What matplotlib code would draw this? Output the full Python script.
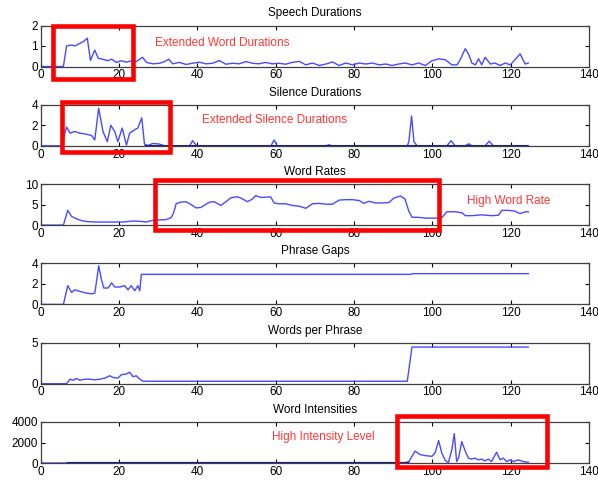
import numpy as np
import matplotlib
matplotlib.use("Agg")
import matplotlib.pyplot as plt
from matplotlib.patches import Rectangle

plt.rcParams['font.family'] = ['Liberation Sans', 'DejaVu Sans']

# -------------------------
# Data
# -------------------------
titles = ['Speech Durations', 'Silence Durations', 'Word Rates',
          'Phrase Gaps', 'Words per Phrase', 'Word Intensities']

speech_x = [0, 5.8, 6.6, 7.9, 8.7, 10.0, 10.8, 11.9, 12.7, 13.8, 14.7, 15.9, 17.2,
            18.1, 19.3, 20.6, 21.9, 23.2, 24.4, 26.0, 27.0, 28.7, 30.4, 31.6, 32.7,
            33.7, 35.4, 37.1, 38.8, 40.5, 42.2, 43.9, 45.6, 47.3, 49.0, 50.7, 52.4,
            54.0, 55.7, 57.4, 59.1, 60.8, 62.5, 64.2, 66.0, 67.7, 69.4, 71.1, 72.8,
            74.5, 76.2, 77.9, 79.6, 81.3, 83.0, 84.7, 86.4, 88.1, 89.7, 91.4, 93.1,
            94.8, 96.5, 98.2, 99.9, 101.6, 103.3, 105.0, 106.3, 107.1, 108.4, 109.3,
            110.1, 111.0, 111.8, 112.6, 113.5, 114.8, 116.0, 117.3, 118.6, 119.9,
            121.1, 122.4, 123.7, 124.5]
speech_y = [0, 0, 1.0, 1.05, 1.0, 1.13, 1.2, 1.38, 0.3, 0.8, 0.4, 0.35, 0.28,
            0.36, 0.2, 0.28, 0.21, 0.28, 0.24, 0.45, 0.2, 0.13, 0.16, 0.24, 0.36,
            0.13, 0.2, 0.1, 0.16, 0.21, 0.13, 0.16, 0.29, 0.11, 0.16, 0.13, 0.24,
            0.16, 0.13, 0.2, 0.13, 0.16, 0.11, 0.2, 0.25, 0.08, 0.17, 0.05, 0.12,
            0.22, 0.05, 0.17, 0.08, 0.17, 0.12, 0.17, 0.08, 0.12, 0.05, 0.12, 0.17,
            0.08, 0.17, 0.05, 0.28, 0.37, 0.33, 0.08, 0.08, 0.33, 0.87, 0.58,
            0.17, 0.08, 0.38, 0.08, 0.45, 0.12, 0.17, 0.05, 0.17, 0.08,
            0.33, 0.62, 0.12, 0.17]

silence_x = [0, 5.3, 6.6, 7.5, 8.7, 10.0, 11.7, 13.0, 13.8, 14.8, 15.9, 17.0, 17.9,
             18.9, 19.7, 20.8, 21.9, 22.7, 24.0, 24.8, 25.8, 26.5, 27.4, 28.6, 30.3,
             31.6, 38.0, 38.8, 39.8, 58.8, 59.6, 60.4, 72.8, 73.6, 74.4, 93.6, 94.0,
             94.7, 95.3, 96.1, 103.7, 104.8, 105.8, 108.4, 109.3, 110.1, 113.5,
             114.5, 115.6, 124.5]
silence_y = [0, 0, 1.83, 1.23, 1.4, 1.23, 1.13, 1.0, 0.57, 3.67, 1.4, 0.4, 2.0,
             1.4, 0.4, 1.73, 0.07, 1.23, 1.57, 1.73, 2.73, 0.17, 0.03, 0.23, 0.17,
             0, 0, 0.5, 0, 0, 0.57, 0, 0, 0.1, 0, 0, 0.4,
             2.9, 0.4, 0, 0, 0.5, 0, 0, 0.2, 0, 0,
             0.45, 0, 0]

rate_x = [0, 5.8, 6.9, 7.9, 9.2, 10.8, 12.1, 14.2, 17.6, 21.0, 23.6, 25.3, 26.9,
          28.6, 30.3, 32.0, 33.3, 33.9, 34.6, 35.8, 37.1, 38.4, 39.7, 40.9, 43.1,
          44.3, 46.0, 47.3, 48.6, 50.3, 51.5, 52.8, 54.1, 54.9, 56.2, 57.5, 58.7,
          59.6, 60.8, 62.5, 64.2, 66.0, 67.7, 69.4, 71.1, 72.8, 74.5, 76.2, 77.9,
          79.6, 81.3, 82.5, 83.8, 85.5, 87.2, 88.9, 90.2, 91.9, 93.0, 94.0, 94.8,
          96.5, 98.2, 99.9, 101.6, 102.5, 103.7, 105.9, 107.6, 108.4, 110.1, 112.6,
          115.2, 116.9, 117.7, 119.4, 121.1, 122.4, 123.7, 124.5]
rate_y = [0, 0, 3.6, 2.1, 1.5, 1.0, 0.83, 0.75, 0.75, 0.75, 1.0, 0.92, 0.75,
          1.17, 1.25, 1.33, 1.83, 2.9, 5.25, 5.6, 5.7, 5.0, 4.2, 4.3, 5.6,
          5.7, 4.8, 5.7, 6.7, 6.9, 6.4, 5.7, 6.4, 7.2, 6.75, 6.8, 6.9,
          5.4, 5.2, 5.2, 4.8, 4.6, 4.1, 5.2, 5.3, 5.1, 5.1, 6.1, 6.2,
          6.2, 6.0, 5.3, 5.8, 5.4, 5.4, 5.5, 6.6, 7.1, 6.4, 3.4, 1.9,
          1.9, 1.7, 1.7, 1.7, 1.9, 3.25, 3.25, 3.0, 2.3, 2.3, 2.5,
          2.3, 2.4, 3.6, 3.6, 3.4, 2.8, 3.25, 3.25]

gaps_x = [0, 5.8, 6.9, 7.9, 8.7, 10.0, 11.7, 13.0, 13.8, 14.2, 14.8, 15.5, 16.1,
          17.2, 18.1, 18.9, 20.2, 21.4, 22.3, 23.1, 24.0, 24.8, 25.3, 25.7, 94.4,
          95.0, 124.5]
gaps_y = [0, 0, 1.83, 1.17, 1.43, 1.27, 1.1, 1.03, 1.1, 2.1, 3.77, 2.43, 1.6,
          1.6, 2.1, 1.7, 1.7, 1.83, 1.43, 1.83, 1.33, 1.83, 1.33, 2.93, 2.93,
          3.0, 3.0]

wpp_x = [0, 6.6, 7.5, 8.3, 9.2, 10.0, 11.3, 12.5, 13.8, 15.1, 16.4, 17.6, 18.5,
         19.7, 20.6, 21.9, 22.7, 23.6, 24.4, 25.3, 26.1, 93.6, 94.8, 124.5]
wpp_y = [0, 0, 0.55, 0.42, 0.64, 0.42, 0.55, 0.55, 0.47, 0.55, 0.68, 0.97, 0.76,
         0.68, 1.1, 1.19, 1.4, 0.85, 0.97, 0.55, 0.3, 0.3, 4.47, 4.47]

inten_x = [0, 6.5, 7.0, 93.0, 94.0, 95.6, 96.9, 98.2, 99.9, 100.7, 101.6, 102.4,
           103.3, 104.1, 105.0, 105.6, 106.2, 106.7, 107.5, 108.4, 109.2, 110.0,
           110.9, 111.7, 112.6, 113.4, 114.3, 115.1, 116.4, 117.3, 118.1, 119.0,
           119.8, 120.7, 121.9, 123.2, 124.5]
inten_y = [0, 0, 40, 40, 137, 1160, 820, 720, 650, 990, 2190, 990,
           240, 35, 1330, 2870, 137, 480, 2085, 1160, 480, 375,
           480, 310, 375, 205, 375, 137, 1060, 310, 480, 137,
           310, 137, 310, 137, 70]

# stretches where the trace sits on zero and looks dark/heavy
silence_quiet = [26.5, 124.5]
inten_quiet = [6.5, 94.0]

series = [(speech_x, speech_y), (silence_x, silence_y), (rate_x, rate_y),
          (gaps_x, gaps_y), (wpp_x, wpp_y), (inten_x, inten_y)]
ylims = [2, 4, 10, 4, 5, 4000]
yticks = [[0, 1, 2], [0, 2, 4], [0, 5, 10], [0, 2, 4], [0, 5], [0, 2000, 4000]]
xticks = [0, 20, 40, 60, 80, 100, 120, 140]

notes = ['Extended Word Durations', 'Extended Silence Durations',
         'High Word Rate', 'High Intensity Level']

# -------------------------
# Plot
# -------------------------
W, H = 598, 480
fig = plt.figure(figsize=(W / 100, H / 100), dpi=100)

line_c = '#4a4aff'
navy = '#1c1c8a'
axes = []
for i, (xs, ys) in enumerate(series):
    top = 25.5 + 79.3 * i
    ax = fig.add_axes([40.7 / W, 1 - (top + 41) / H, 548.3 / W, 41 / H])
    ax.plot(xs, ys, color=line_c, lw=1.0)
    ax.set_xlim(0, 140)
    ax.set_ylim(0, ylims[i])
    ax.set_xticks(xticks)
    ax.set_yticks(yticks[i])
    ax.tick_params(direction='in', top=True, right=True, length=3, width=0.8,
                   labelsize=8.5, pad=2)
    for s in ax.spines.values():
        s.set_color('#404040')
        s.set_linewidth(0.9)
    ax.set_title(titles[i], fontsize=8.5, pad=6.5)
    axes.append(ax)

axes[1].plot(silence_quiet, [0, 0], color=navy, lw=2.2, solid_capstyle='butt')
axes[5].plot(inten_quiet, [0, 0], color=navy, lw=2.2, solid_capstyle='butt')

# red highlight boxes (pixel layout of the reference)
boxes = [(53, 26.5, 133, 78.5), (61.7, 102.5, 170.5, 152),
         (154.7, 180, 439, 230), (397.5, 416, 547, 467)]
for x0, y0, x1, y1 in boxes:
    fig.add_artist(Rectangle((x0 / W, 1 - y1 / H), (x1 - x0) / W, (y1 - y0) / H,
                             transform=fig.transFigure, fill=False,
                             ec='#ff0000', lw=3.3, zorder=10))

note_pos = [(155, 43), (202, 120), (467, 201), (272, 437)]
for txt, (px, py) in zip(notes, note_pos):
    fig.text(px / W, 1 - py / H, txt, color='#ff3838', fontsize=8.5,
             ha='left', va='center')

fig.savefig('out.png', dpi=100)
